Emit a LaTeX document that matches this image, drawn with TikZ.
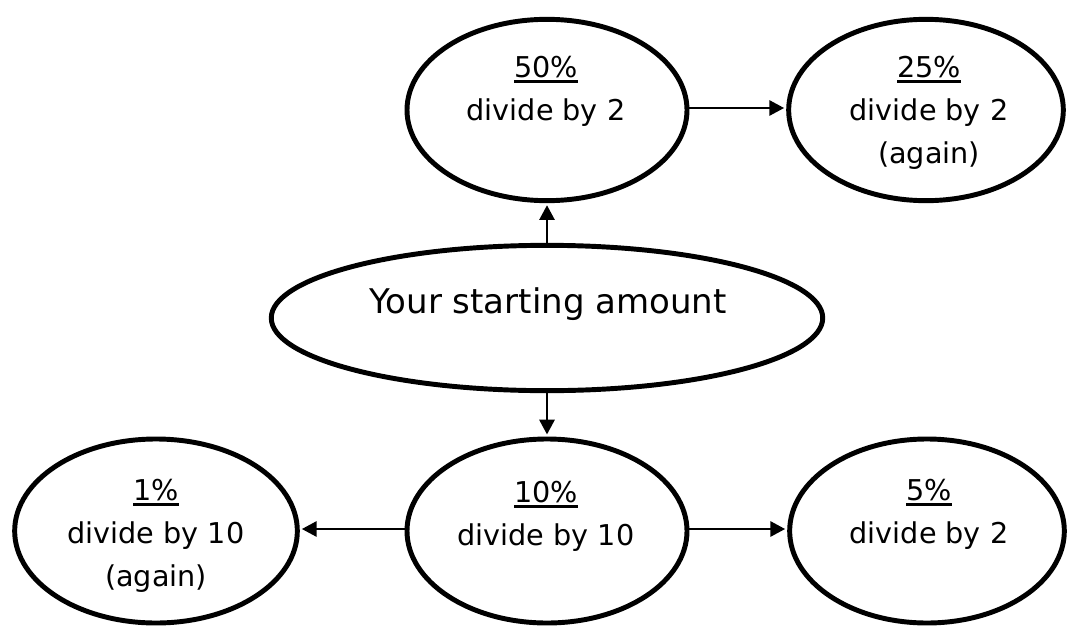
\documentclass[tikz,border=0pt]{standalone}
\usepackage{fontspec}
\setmainfont{DejaVu Sans}
\usetikzlibrary{shapes.geometric,arrows.meta}
\newcommand\pctul[1]{\vtop{\hbox{#1}\kern1.9pt\hrule height 2.2pt}}
\begin{document}
\begin{tikzpicture}[x=0.75pt,y=-0.75pt,
  oval/.style={draw, ellipse, line width=3.7pt, inner sep=0pt},
  small/.style={oval, minimum width=210pt, minimum height=136pt},
  link/.style={line width=1.3pt, shorten >=1.6pt, -{Triangle[length=11pt,width=11.5pt]}},
  lbl/.style={anchor=base, inner sep=0pt, font=\fontsize{21.5}{32.6}\selectfont}]
\useasboundingbox (0,0) rectangle (1067,628);
\node[small] (e50) at (547,110) {};
\node[small, minimum width=206pt] (e25) at (926,110) {};
\node[oval, minimum width=413.6pt, minimum height=109pt] (start) at (547,318) {};
\node[small, minimum width=212pt, minimum height=138pt] (e1) at (156,531) {};
\node[small, minimum height=138pt] (e10) at (547,531) {};
\node[small, minimum width=206pt, minimum height=138pt] (e5) at (927,531) {};
\node[lbl] (t50) at (546,77) {\begin{tabular}[t]{@{}c@{}}\pctul{50\%}\\divide by 2\end{tabular}};
\node[lbl] (t25) at (929,77) {\begin{tabular}[t]{@{}c@{}}\pctul{25\%}\\divide by 2\\(again)\end{tabular}};
\node[anchor=base, inner sep=0pt, font=\fontsize{25.5}{30}\selectfont] (tstart) at (548,313) {Your starting amount};
\node[lbl] (t1) at (156,500) {\begin{tabular}[t]{@{}c@{}}\pctul{1\%}\\divide by 10\\(again)\end{tabular}};
\node[lbl] (t10) at (546,502) {\begin{tabular}[t]{@{}c@{}}\pctul{10\%}\\divide by 10\end{tabular}};
\node[lbl] (t5) at (929,500) {\begin{tabular}[t]{@{}c@{}}\pctul{5\%}\\divide by 2\end{tabular}};
\draw[link] ([yshift=1.5pt]e50.east) -- ([yshift=1.5pt]e25.west);
\draw[link] (start) -- (e50);
\draw[link] (start) -- (e10);
\draw[link] ([yshift=1.5pt]e10.west) -- ([yshift=1.5pt]e1.east);
\draw[link] ([yshift=1.5pt]e10.east) -- ([yshift=1.5pt]e5.west);
\end{tikzpicture}
\end{document}
